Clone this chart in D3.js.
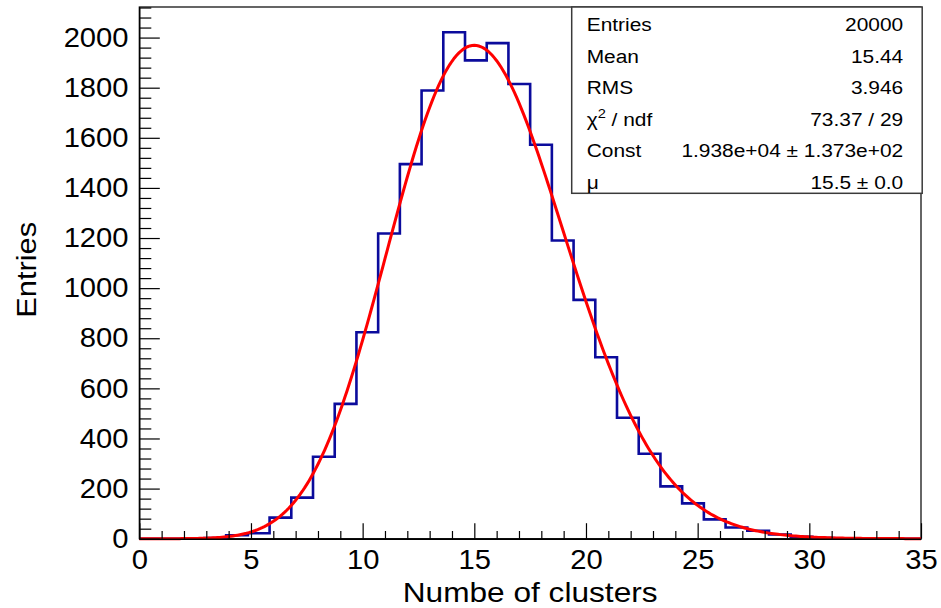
<!DOCTYPE html>
<html>
<head>
<meta charset="utf-8">
<script src="https://cdn.jsdelivr.net/npm/d3@7"></script>
<style>
  html, body { margin: 0; padding: 0; background: #fff; }
  svg { display: block; font-family: "Liberation Sans", Arial, Helvetica, sans-serif; }
</style>
</head>
<body>
<svg id="chart" width="941" height="608"></svg>
<script>
// Histogram: 36 bins spanning [0, 35]
const xRange = [0, 35];
const binCounts = [0, 0, 0, 3, 14, 22, 84, 164, 327, 538, 824, 1218, 1495, 1789, 2021, 1909,
                   1978, 1815, 1572, 1190, 953, 724, 483, 339, 209, 141, 77, 45, 32, 17, 8, 3,
                   2, 1, 0, 0];

// Axis ticks
const xMajorTicks = [0, 5, 10, 15, 20, 25, 30, 35];
const yMajorTicks = [0, 200, 400, 600, 800, 1000, 1200, 1400, 1600, 1800, 2000];

// Fit: Const * Poisson(x; mu)
const fitConst = 19380;
const fitMu = 15.5;

// Statistics box
const statLabels = ["Entries", "Mean", "RMS", "chi2", "Const", "\u03bc"];
const statValues = ["20000", "15.44", "3.946", "73.37 / 29", "1.938e+04 \u00b1 1.373e+02", "15.5 \u00b1 0.0"];

const xTitle = "Numbe of clusters";
const yTitle = "Entries";

const svg = d3.select("#chart");
const frame = { left: 139.3, right: 921, top: 7, bottom: 538.7 };

const nBins = binCounts.length;
const binWidth = (xRange[1] - xRange[0]) / nBins;
const yMax = 1.05 * d3.max(binCounts);

const x = d3.scaleLinear().domain(xRange).range([frame.left, frame.right]);
const y = d3.scaleLinear().domain([0, yMax]).range([frame.bottom, frame.top]);

// frame
svg.append("rect")
  .attr("x", frame.left).attr("y", frame.top)
  .attr("width", frame.right - frame.left).attr("height", frame.bottom - frame.top)
  .attr("fill", "none").attr("stroke", "#000").attr("stroke-width", 1.2);

// histogram outline (step)
const stepPts = binCounts.map((c, i) => [xRange[0] + i * binWidth, c]);
stepPts.push([xRange[1], binCounts[nBins - 1]]);
const stepLine = d3.line().x(d => x(d[0])).y(d => y(d[1])).curve(d3.curveStepAfter);
svg.append("path")
  .attr("d", stepLine(stepPts))
  .attr("fill", "none").attr("stroke", "#0b0b9c").attr("stroke-width", 2.6)
  .attr("stroke-linejoin", "miter");

// fit curve
function lnGamma(z) {
  const g = 7;
  const c = [0.99999999999980993, 676.5203681218851, -1259.1392167224028, 771.32342877765313,
             -176.61502916214059, 12.507343278686905, -0.13857109526572012,
             9.9843695780195716e-6, 1.5056327351493116e-7];
  if (z < 0.5) return Math.log(Math.PI / Math.sin(Math.PI * z)) - lnGamma(1 - z);
  z -= 1;
  let a = c[0];
  const t = z + g + 0.5;
  for (let i = 1; i < g + 2; i++) a += c[i] / (z + i);
  return 0.5 * Math.log(2 * Math.PI) + (z + 0.5) * Math.log(t) - t + Math.log(a);
}
const poisson = (xv, mu) => Math.exp(xv * Math.log(mu) - mu - lnGamma(xv + 1));
const fitX = d3.range(xRange[0], xRange[1] + 1e-9, 0.1);
const fitLine = d3.line().x(d => x(d)).y(d => y(fitConst * poisson(d, fitMu)));
svg.append("path")
  .attr("d", fitLine(fitX))
  .attr("fill", "none").attr("stroke", "#ff0000").attr("stroke-width", 3);

// axes
const tickFont = 27, tickStretch = 1.08;
function styleAxis(g) {
  g.selectAll("path.domain").attr("stroke", "#000").attr("stroke-width", 1.4);
  g.selectAll(".tick line").attr("stroke", "#000").attr("stroke-width", 1.2);
  g.selectAll(".tick text").attr("fill", "#000").attr("font-size", tickFont)
    .attr("font-family", '"Liberation Sans", Arial, sans-serif')
    .attr("transform", `scale(${tickStretch},1)`);
}

const xMinor = d3.range(0, 36, 1).filter(v => v % 5 !== 0);
svg.append("g").attr("transform", `translate(0,${frame.bottom})`)
  .call(d3.axisBottom(x).tickValues(xMinor).tickSize(-7.7).tickFormat(""))
  .call(g => g.select("path.domain").remove())
  .call(styleAxis);
svg.append("g").attr("transform", `translate(0,${frame.bottom})`)
  .call(d3.axisBottom(x).tickValues(xMajorTicks).tickSize(-15.5).tickSizeOuter(0)
        .tickPadding(11).tickFormat(d3.format("d")))
  .call(styleAxis);

const yMinor = d3.range(0, yMax, 40).filter(v => v % 200 !== 0);
svg.append("g").attr("transform", `translate(${frame.left},0)`)
  .call(d3.axisLeft(y).tickValues(yMinor).tickSize(-12).tickFormat(""))
  .call(g => g.select("path.domain").remove())
  .call(styleAxis);
svg.append("g").attr("transform", `translate(${frame.left},0)`)
  .call(d3.axisLeft(y).tickValues(yMajorTicks).tickSize(-20.5).tickSizeOuter(0)
        .tickPadding(10).tickFormat(d3.format("d")))
  .call(styleAxis);

// axis titles
svg.append("text")
  .attr("transform", `translate(${(frame.left + frame.right) / 2},601.5) scale(1.13,1)`)
  .attr("text-anchor", "middle").attr("font-size", 28).attr("fill", "#000")
  .text(xTitle);
svg.append("text")
  .attr("transform", `translate(35.5,${(frame.top + frame.bottom) / 2 - 3}) rotate(-90) scale(1.1,1)`)
  .attr("text-anchor", "middle").attr("font-size", 28).attr("fill", "#000")
  .text(yTitle);

// statistics box
const box = { x: 571.7, y: 7, w: 350.5, h: 186.3 };
svg.append("rect")
  .attr("x", box.x).attr("y", box.y).attr("width", box.w).attr("height", box.h)
  .attr("fill", "#fff").attr("stroke", "#3a3a3a").attr("stroke-width", 1.5);

const statFont = 19, statStretch = 1.1;
statLabels.forEach((lab, i) => {
  const by = 31 + i * 31.5;
  const t = svg.append("text")
    .attr("transform", `translate(${box.x + 15},${by}) scale(${statStretch},1)`)
    .attr("font-size", statFont).attr("fill", "#000");
  if (lab === "chi2") {
    t.append("tspan").text("\u03c7");
    t.append("tspan").attr("font-size", statFont * 0.7).attr("dy", -8).text("2");
    t.append("tspan").attr("dy", 8).text(" / ndf");
  } else {
    t.text(lab);
  }
  svg.append("text")
    .attr("transform", `translate(${box.x + box.w - 19},${by}) scale(${statStretch},1)`)
    .attr("text-anchor", "end").attr("font-size", statFont).attr("fill", "#000")
    .text(statValues[i]);
});
</script>
</body>
</html>
